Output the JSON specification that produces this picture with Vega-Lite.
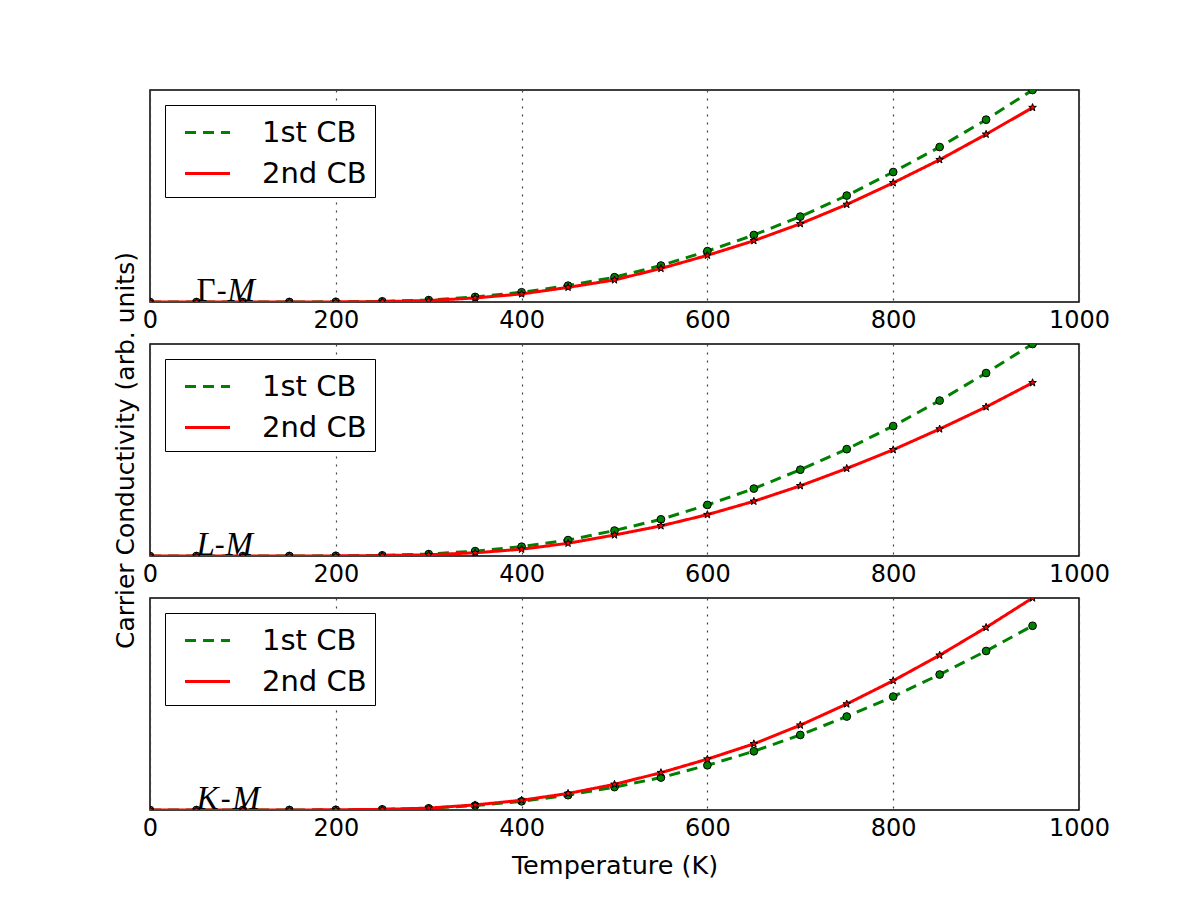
{
  "$schema": "https://vega.github.io/schema/vega-lite/v6.json",
  "background": "white",
  "padding": {"left": 112, "top": 89, "right": 5, "bottom": 5},
  "datasets": {
    "gm": [
      {"T": 0, "band": "1st CB", "value": 0}, {"T": 50, "band": "1st CB", "value": 0}, {"T": 100, "band": "1st CB", "value": 0}, {"T": 150, "band": "1st CB", "value": 0.0002}, {"T": 200, "band": "1st CB", "value": 0.001}, {"T": 250, "band": "1st CB", "value": 0.003}, {"T": 300, "band": "1st CB", "value": 0.009}, {"T": 350, "band": "1st CB", "value": 0.024}, {"T": 400, "band": "1st CB", "value": 0.046}, {"T": 450, "band": "1st CB", "value": 0.077}, {"T": 500, "band": "1st CB", "value": 0.117}, {"T": 550, "band": "1st CB", "value": 0.172}, {"T": 600, "band": "1st CB", "value": 0.24}, {"T": 650, "band": "1st CB", "value": 0.316}, {"T": 700, "band": "1st CB", "value": 0.403}, {"T": 750, "band": "1st CB", "value": 0.502}, {"T": 800, "band": "1st CB", "value": 0.613}, {"T": 850, "band": "1st CB", "value": 0.731}, {"T": 900, "band": "1st CB", "value": 0.86}, {"T": 950, "band": "1st CB", "value": 1.0},
      {"T": 0, "band": "2nd CB", "value": 0}, {"T": 50, "band": "2nd CB", "value": 0}, {"T": 100, "band": "2nd CB", "value": 0}, {"T": 150, "band": "2nd CB", "value": 0.0001}, {"T": 200, "band": "2nd CB", "value": 0.0006}, {"T": 250, "band": "2nd CB", "value": 0.002}, {"T": 300, "band": "2nd CB", "value": 0.007}, {"T": 350, "band": "2nd CB", "value": 0.019}, {"T": 400, "band": "2nd CB", "value": 0.038}, {"T": 450, "band": "2nd CB", "value": 0.069}, {"T": 500, "band": "2nd CB", "value": 0.104}, {"T": 550, "band": "2nd CB", "value": 0.158}, {"T": 600, "band": "2nd CB", "value": 0.22}, {"T": 650, "band": "2nd CB", "value": 0.289}, {"T": 700, "band": "2nd CB", "value": 0.369}, {"T": 750, "band": "2nd CB", "value": 0.46}, {"T": 800, "band": "2nd CB", "value": 0.562}, {"T": 850, "band": "2nd CB", "value": 0.671}, {"T": 900, "band": "2nd CB", "value": 0.791}, {"T": 950, "band": "2nd CB", "value": 0.917}
    ],
    "lm": [
      {"T": 0, "band": "1st CB", "value": 0}, {"T": 50, "band": "1st CB", "value": 0}, {"T": 100, "band": "1st CB", "value": 0}, {"T": 150, "band": "1st CB", "value": 0.0002}, {"T": 200, "band": "1st CB", "value": 0.001}, {"T": 250, "band": "1st CB", "value": 0.003}, {"T": 300, "band": "1st CB", "value": 0.009}, {"T": 350, "band": "1st CB", "value": 0.023}, {"T": 400, "band": "1st CB", "value": 0.044}, {"T": 450, "band": "1st CB", "value": 0.075}, {"T": 500, "band": "1st CB", "value": 0.12}, {"T": 550, "band": "1st CB", "value": 0.173}, {"T": 600, "band": "1st CB", "value": 0.241}, {"T": 650, "band": "1st CB", "value": 0.318}, {"T": 700, "band": "1st CB", "value": 0.407}, {"T": 750, "band": "1st CB", "value": 0.504}, {"T": 800, "band": "1st CB", "value": 0.613}, {"T": 850, "band": "1st CB", "value": 0.733}, {"T": 900, "band": "1st CB", "value": 0.863}, {"T": 950, "band": "1st CB", "value": 1.0},
      {"T": 0, "band": "2nd CB", "value": 0}, {"T": 50, "band": "2nd CB", "value": 0}, {"T": 100, "band": "2nd CB", "value": 0}, {"T": 150, "band": "2nd CB", "value": 0.0001}, {"T": 200, "band": "2nd CB", "value": 0.0005}, {"T": 250, "band": "2nd CB", "value": 0.002}, {"T": 300, "band": "2nd CB", "value": 0.006}, {"T": 350, "band": "2nd CB", "value": 0.015}, {"T": 400, "band": "2nd CB", "value": 0.032}, {"T": 450, "band": "2nd CB", "value": 0.06}, {"T": 500, "band": "2nd CB", "value": 0.099}, {"T": 550, "band": "2nd CB", "value": 0.142}, {"T": 600, "band": "2nd CB", "value": 0.195}, {"T": 650, "band": "2nd CB", "value": 0.258}, {"T": 700, "band": "2nd CB", "value": 0.331}, {"T": 750, "band": "2nd CB", "value": 0.413}, {"T": 800, "band": "2nd CB", "value": 0.501}, {"T": 850, "band": "2nd CB", "value": 0.599}, {"T": 900, "band": "2nd CB", "value": 0.703}, {"T": 950, "band": "2nd CB", "value": 0.817}
    ],
    "km": [
      {"T": 0, "band": "1st CB", "value": 0}, {"T": 50, "band": "1st CB", "value": 0}, {"T": 100, "band": "1st CB", "value": 0}, {"T": 150, "band": "1st CB", "value": 0.0002}, {"T": 200, "band": "1st CB", "value": 0.001}, {"T": 250, "band": "1st CB", "value": 0.003}, {"T": 300, "band": "1st CB", "value": 0.008}, {"T": 350, "band": "1st CB", "value": 0.021}, {"T": 400, "band": "1st CB", "value": 0.041}, {"T": 450, "band": "1st CB", "value": 0.07}, {"T": 500, "band": "1st CB", "value": 0.108}, {"T": 550, "band": "1st CB", "value": 0.153}, {"T": 600, "band": "1st CB", "value": 0.211}, {"T": 650, "band": "1st CB", "value": 0.277}, {"T": 700, "band": "1st CB", "value": 0.354}, {"T": 750, "band": "1st CB", "value": 0.441}, {"T": 800, "band": "1st CB", "value": 0.535}, {"T": 850, "band": "1st CB", "value": 0.639}, {"T": 900, "band": "1st CB", "value": 0.75}, {"T": 950, "band": "1st CB", "value": 0.869},
      {"T": 0, "band": "2nd CB", "value": 0}, {"T": 50, "band": "2nd CB", "value": 0}, {"T": 100, "band": "2nd CB", "value": 0}, {"T": 150, "band": "2nd CB", "value": 0.0002}, {"T": 200, "band": "2nd CB", "value": 0.001}, {"T": 250, "band": "2nd CB", "value": 0.003}, {"T": 300, "band": "2nd CB", "value": 0.009}, {"T": 350, "band": "2nd CB", "value": 0.024}, {"T": 400, "band": "2nd CB", "value": 0.046}, {"T": 450, "band": "2nd CB", "value": 0.078}, {"T": 500, "band": "2nd CB", "value": 0.121}, {"T": 550, "band": "2nd CB", "value": 0.176}, {"T": 600, "band": "2nd CB", "value": 0.24}, {"T": 650, "band": "2nd CB", "value": 0.312}, {"T": 700, "band": "2nd CB", "value": 0.4}, {"T": 750, "band": "2nd CB", "value": 0.5}, {"T": 800, "band": "2nd CB", "value": 0.61}, {"T": 850, "band": "2nd CB", "value": 0.73}, {"T": 900, "band": "2nd CB", "value": 0.861}, {"T": 950, "band": "2nd CB", "value": 1.0}
    ]
  },
  "spacing": 42,
  "bounds": "flush",
  "resolve": {
    "scale": {"color": "independent", "strokeDash": "independent", "y": "independent", "x": "independent"},
    "legend": {"color": "independent", "strokeDash": "independent"}
  },
  "vconcat": [
    {
      "width": 929, "height": 212,
      "data": {"name": "gm"},
      "encoding": {
        "x": {"field": "T", "type": "quantitative", "scale": {"domain": [0, 1000], "nice": false, "zero": false}, "axis": {"values": [0, 200, 400, 600, 800, 1000], "title": null}},
        "y": {"field": "value", "type": "quantitative", "scale": {"domain": [0, 1], "nice": false}, "axis": null}
      },
      "layer": [
        {"transform": [{"filter": "datum.band == '1st CB'"}], "mark": {"type": "line", "clip": true, "strokeWidth": 3, "strokeCap": "butt"},
         "encoding": {"color": {"field": "band", "type": "nominal", "scale": {"domain": ["1st CB", "2nd CB"], "range": ["#008000", "#ff0000"]}}, "strokeDash": {"field": "band", "type": "nominal", "scale": {"domain": ["1st CB", "2nd CB"], "range": [[11, 7], [1, 0]]}}}},
        {"transform": [{"filter": "datum.band == '1st CB'"}], "mark": {"type": "point", "shape": "circle", "filled": true, "fill": "#008000", "stroke": "black", "strokeWidth": 1, "size": 60, "opacity": 1, "clip": true}},
        {"transform": [{"filter": "datum.band == '2nd CB'"}], "mark": {"type": "line", "clip": true, "strokeWidth": 3, "strokeCap": "butt"},
         "encoding": {"color": {"field": "band", "type": "nominal", "scale": {"domain": ["1st CB", "2nd CB"], "range": ["#008000", "#ff0000"]}}, "strokeDash": {"field": "band", "type": "nominal", "scale": {"domain": ["1st CB", "2nd CB"], "range": [[11, 7], [1, 0]]}}}},
        {"transform": [{"filter": "datum.band == '2nd CB'"}], "mark": {"type": "point", "shape": "M0,-1L0.235,-0.324L0.951,-0.309L0.38,0.124L0.588,0.809L0,0.4L-0.588,0.809L-0.38,0.124L-0.951,-0.309L-0.235,-0.324Z", "filled": true, "fill": "#ff0000", "stroke": "black", "strokeWidth": 1, "size": 64, "opacity": 1, "clip": true}},
        {"transform": [{"filter": "datum.band == '1st CB' && datum.T == 50"}], "mark": {"type": "text", "text": "Γ", "font": "Liberation Serif", "fontSize": 33, "align": "left", "baseline": "alphabetic", "dy": -1, "fill": "black"}},
        {"transform": [{"filter": "datum.band == '1st CB' && datum.T == 50"}], "mark": {"type": "text", "text": "-", "font": "DejaVu Sans", "fontSize": 29, "align": "left", "baseline": "alphabetic", "dx": 20, "dy": -1, "fill": "black"}},
        {"transform": [{"filter": "datum.band == '1st CB' && datum.T == 50"}], "mark": {"type": "text", "text": "M", "font": "Liberation Serif", "fontStyle": "italic", "fontSize": 33, "align": "left", "baseline": "alphabetic", "dx": 31, "dy": -1, "fill": "black"}}
      ]
    },
    {
      "width": 929, "height": 212,
      "data": {"name": "lm"},
      "encoding": {
        "x": {"field": "T", "type": "quantitative", "scale": {"domain": [0, 1000], "nice": false, "zero": false}, "axis": {"values": [0, 200, 400, 600, 800, 1000], "title": null}},
        "y": {"field": "value", "type": "quantitative", "scale": {"domain": [0, 1], "nice": false}, "axis": {"title": "Carrier Conductivity (arb. units)", "labels": false, "ticks": false, "domain": false, "grid": false, "titleFontSize": 25, "titleFontWeight": "normal", "titlePadding": 12, "titleFont": "DejaVu Sans", "titleColor": "black"}}
      },
      "layer": [
        {"transform": [{"filter": "datum.band == '1st CB'"}], "mark": {"type": "line", "clip": true, "strokeWidth": 3, "strokeCap": "butt"},
         "encoding": {"color": {"field": "band", "type": "nominal", "scale": {"domain": ["1st CB", "2nd CB"], "range": ["#008000", "#ff0000"]}}, "strokeDash": {"field": "band", "type": "nominal", "scale": {"domain": ["1st CB", "2nd CB"], "range": [[11, 7], [1, 0]]}}}},
        {"transform": [{"filter": "datum.band == '1st CB'"}], "mark": {"type": "point", "shape": "circle", "filled": true, "fill": "#008000", "stroke": "black", "strokeWidth": 1, "size": 60, "opacity": 1, "clip": true}},
        {"transform": [{"filter": "datum.band == '2nd CB'"}], "mark": {"type": "line", "clip": true, "strokeWidth": 3, "strokeCap": "butt"},
         "encoding": {"color": {"field": "band", "type": "nominal", "scale": {"domain": ["1st CB", "2nd CB"], "range": ["#008000", "#ff0000"]}}, "strokeDash": {"field": "band", "type": "nominal", "scale": {"domain": ["1st CB", "2nd CB"], "range": [[11, 7], [1, 0]]}}}},
        {"transform": [{"filter": "datum.band == '2nd CB'"}], "mark": {"type": "point", "shape": "M0,-1L0.235,-0.324L0.951,-0.309L0.38,0.124L0.588,0.809L0,0.4L-0.588,0.809L-0.38,0.124L-0.951,-0.309L-0.235,-0.324Z", "filled": true, "fill": "#ff0000", "stroke": "black", "strokeWidth": 1, "size": 64, "opacity": 1, "clip": true}},
        {"transform": [{"filter": "datum.band == '1st CB' && datum.T == 50"}], "mark": {"type": "text", "text": "L", "font": "Liberation Serif", "fontStyle": "italic", "fontSize": 33, "align": "left", "baseline": "alphabetic", "dy": -1, "fill": "black"}},
        {"transform": [{"filter": "datum.band == '1st CB' && datum.T == 50"}], "mark": {"type": "text", "text": "-", "font": "DejaVu Sans", "fontSize": 29, "align": "left", "baseline": "alphabetic", "dx": 18, "dy": -1, "fill": "black"}},
        {"transform": [{"filter": "datum.band == '1st CB' && datum.T == 50"}], "mark": {"type": "text", "text": "M", "font": "Liberation Serif", "fontStyle": "italic", "fontSize": 33, "align": "left", "baseline": "alphabetic", "dx": 29, "dy": -1, "fill": "black"}}
      ]
    },
    {
      "width": 929, "height": 212,
      "data": {"name": "km"},
      "encoding": {
        "x": {"field": "T", "type": "quantitative", "scale": {"domain": [0, 1000], "nice": false, "zero": false}, "axis": {"values": [0, 200, 400, 600, 800, 1000], "title": "Temperature (K)", "titleFontSize": 25.5, "titleFontWeight": "normal", "titlePadding": 13, "titleFont": "DejaVu Sans", "titleColor": "black"}},
        "y": {"field": "value", "type": "quantitative", "scale": {"domain": [0, 1], "nice": false}, "axis": null}
      },
      "layer": [
        {"transform": [{"filter": "datum.band == '1st CB'"}], "mark": {"type": "line", "clip": true, "strokeWidth": 3, "strokeCap": "butt"},
         "encoding": {"color": {"field": "band", "type": "nominal", "scale": {"domain": ["1st CB", "2nd CB"], "range": ["#008000", "#ff0000"]}}, "strokeDash": {"field": "band", "type": "nominal", "scale": {"domain": ["1st CB", "2nd CB"], "range": [[11, 7], [1, 0]]}}}},
        {"transform": [{"filter": "datum.band == '1st CB'"}], "mark": {"type": "point", "shape": "circle", "filled": true, "fill": "#008000", "stroke": "black", "strokeWidth": 1, "size": 60, "opacity": 1, "clip": true}},
        {"transform": [{"filter": "datum.band == '2nd CB'"}], "mark": {"type": "line", "clip": true, "strokeWidth": 3, "strokeCap": "butt"},
         "encoding": {"color": {"field": "band", "type": "nominal", "scale": {"domain": ["1st CB", "2nd CB"], "range": ["#008000", "#ff0000"]}}, "strokeDash": {"field": "band", "type": "nominal", "scale": {"domain": ["1st CB", "2nd CB"], "range": [[11, 7], [1, 0]]}}}},
        {"transform": [{"filter": "datum.band == '2nd CB'"}], "mark": {"type": "point", "shape": "M0,-1L0.235,-0.324L0.951,-0.309L0.38,0.124L0.588,0.809L0,0.4L-0.588,0.809L-0.38,0.124L-0.951,-0.309L-0.235,-0.324Z", "filled": true, "fill": "#ff0000", "stroke": "black", "strokeWidth": 1, "size": 64, "opacity": 1, "clip": true}},
        {"transform": [{"filter": "datum.band == '1st CB' && datum.T == 50"}], "mark": {"type": "text", "text": "K", "font": "Liberation Serif", "fontStyle": "italic", "fontSize": 33, "align": "left", "baseline": "alphabetic", "dy": -1, "fill": "black"}},
        {"transform": [{"filter": "datum.band == '1st CB' && datum.T == 50"}], "mark": {"type": "text", "text": "-", "font": "DejaVu Sans", "fontSize": 29, "align": "left", "baseline": "alphabetic", "dx": 24, "dy": -1, "fill": "black"}},
        {"transform": [{"filter": "datum.band == '1st CB' && datum.T == 50"}], "mark": {"type": "text", "text": "M", "font": "Liberation Serif", "fontStyle": "italic", "fontSize": 33, "align": "left", "baseline": "alphabetic", "dx": 36, "dy": -1, "fill": "black"}}
      ]
    }
  ],
  "config": {
    "font": "DejaVu Sans",
    "view": {"stroke": "black", "strokeWidth": 1.5},
    "axisX": {
      "labelFontSize": 24, "labelColor": "black", "labelFont": "DejaVu Sans", "labelPadding": 6,
      "ticks": false, "domain": false, "grid": true, "gridColor": "#444444", "gridDash": [2, 6], "gridWidth": 1.2,
      "labelFlush": false, "format": "d", "labelOverlap": false
    },
    "legend": {
      "orient": "none", "legendX": 15, "legendY": 15, "title": null,
      "fillColor": "white", "strokeColor": "black", "padding": 8,
      "symbolType": "M-1.25,0H1.25", "symbolSize": 1296, "symbolStrokeWidth": 3, "symbolOffset": 15,
      "labelOffset": 35, "labelFontSize": 29, "labelFont": "DejaVu Sans", "labelColor": "black", "rowPadding": 6
    }
  }
}
